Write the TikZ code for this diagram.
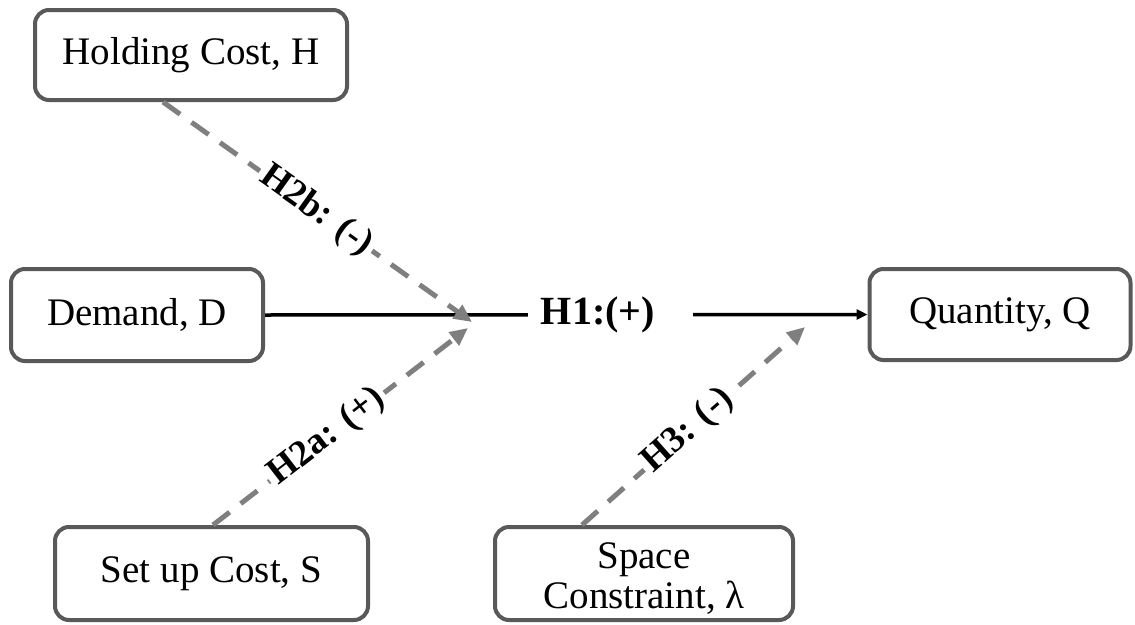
\documentclass[tikz,border=0pt]{standalone}
\usepackage{fontspec}
\setmainfont{Liberation Serif}
\usetikzlibrary{arrows.meta}
\definecolor{boxgray}{HTML}{595959}
\definecolor{dashgray}{HTML}{7F7F7F}
\begin{document}
\begin{tikzpicture}[x=1pt,y=-1pt,
  box/.style={draw=boxgray,line width=4pt,rounded corners=14pt,fill=white,align=center,
    font=\fontsize{39}{40}\selectfont,inner sep=0pt},
  dasharrow/.style={draw=dashgray,line width=5pt,dash pattern=on 21pt off 14pt,
    -{Triangle[length=18pt,width=16pt]}},
  lab/.style={font=\fontsize{37}{40}\selectfont\bfseries,fill=white,inner sep=4pt,sloped},
  mainarrow/.style={draw=black,line width=3.5pt,-{Triangle[length=11pt,width=10pt]}}]
\useasboundingbox (0,0) rectangle (1135,624);

\node[box,minimum width=312pt,minimum height=90pt] (holding) at (191,55) {Holding Cost, H};
\node[box,minimum width=252pt,minimum height=92pt] (demand) at (137,315) {Demand, D};
\node[box,minimum width=261pt,minimum height=91pt] (quantity) at (1000,314.5) {Quantity, Q};
\node[box,minimum width=313pt,minimum height=93pt] (setup) at (211.5,573.5) {Set up Cost, S};
\node[box,minimum width=298pt,minimum height=93pt] (space) at (644,573.5) {\rule{0pt}{36pt}Space\\Constraint, λ};

\coordinate (j1) at (472,322);
\coordinate (j2) at (468,328);
\coordinate (j3) at (805,327);

\draw[mainarrow] (demand.east) -- node[pos=0.574,fill=white,inner xsep=12.5pt,inner ysep=4pt,
  font=\fontsize{40}{42}\selectfont\bfseries] (h1) {H1:(+)\kern26pt} (quantity.west);

\draw[dasharrow] ([xshift=-28pt]holding.south) -- node[lab,pos=0.495] (h2b) {H2b: (-)} (j1);
\draw[dasharrow] ([xshift=1.5pt]setup.north) -- node[lab,pos=0.447] (h2a) {H2a: (+)} (j2);
\draw[dasharrow] ([xshift=-62pt]space.north) -- node[lab,pos=0.475] (h3) {H3: (-)} (j3);
\end{tikzpicture}
\end{document}
